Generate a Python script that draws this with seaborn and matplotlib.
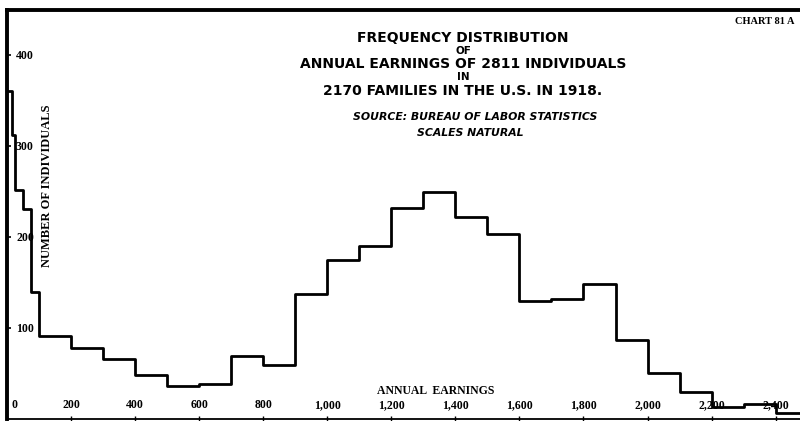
import numpy as np
import matplotlib
matplotlib.use("Agg")
import matplotlib.pyplot as plt
import matplotlib.transforms as mtransforms
import seaborn as sns

# bin edges (dollars) and number of individuals in each bin
edges = [0, 15, 25, 50, 75, 100, 200, 300, 400, 500, 600, 700, 800, 900,
         1000, 1100, 1200, 1300, 1400, 1500, 1600, 1700, 1800, 1900, 2000,
         2100, 2200, 2300, 2400, 2500]
counts = [360, 312, 251, 231, 139, 91, 78, 66, 48, 36, 38, 69, 59, 137,
          175, 190, 232, 249, 222, 203, 129, 132, 148, 87, 51, 30, 13, 16, 7]

xticks = [0, 200, 400, 600, 800, 1000, 1200, 1400, 1600, 1800, 2000, 2200, 2400]
xticklabels = ["0", "200", "400", "600", "800", "1,000", "1,200", "1,400",
               "1,600", "1,800", "2,000", "2,200", "2,400"]
yticks = [100, 200, 300, 400]

title_lines = ["FREQUENCY DISTRIBUTION", "OF",
               "ANNUAL EARNINGS OF 2811 INDIVIDUALS", "IN",
               "2170 FAMILIES IN THE U.S. IN 1918."]
title_sizes = [10, 7.5, 10, 7.5, 10]

sns.set_style("white")
plt.rcParams["font.family"] = ["Liberation Serif", "DejaVu Serif"]
for key in ["text.color", "axes.labelcolor", "xtick.color", "ytick.color"]:
    plt.rcParams[key] = "black"

fig = plt.figure(figsize=(8, 4.21), dpi=100)
ax = fig.add_axes([7 / 800, 2 / 421, 1 - 7 / 800, 409 / 421])

sns.histplot(x=edges[:-1], weights=counts, bins=edges, element="step",
             fill=False, color="black", linewidth=2.0, ax=ax)

ax.set_xlim(0, 2476)
ax.set_ylim(0, 449)
ax.set_xlabel("")
ax.set_ylabel("")

for side in ["left", "top"]:
    ax.spines[side].set_linewidth(2.8)
    ax.spines[side].set_color("black")
ax.spines["bottom"].set_linewidth(1.3)
ax.spines["bottom"].set_color("black")
ax.spines["right"].set_visible(False)

ax.set_yticks(yticks)
ax.set_yticklabels([str(v) for v in yticks], fontsize=8.5, fontweight="bold")
ax.tick_params(axis="y", direction="in", length=3, width=1.2, pad=-6.5, left=True)
for t in ax.get_yticklabels():
    t.set_ha("left")

ax.set_xticks(xticks)
ax.set_xticklabels(xticklabels, fontsize=8.5, fontweight="bold")
ax.tick_params(axis="x", direction="inout", length=5, width=1.0, pad=-17, bottom=True)
zero_label = ax.get_xticklabels()[0]
zero_label.set_ha("left")
zero_label.set_transform(zero_label.get_transform() +
                         mtransforms.ScaledTranslation(5 / 100, 0, fig.dpi_scale_trans))

ax.text(0.54, 0.068, "ANNUAL  EARNINGS", transform=ax.transAxes, ha="center",
        va="center", fontsize=8.5, fontweight="bold")
ax.text(40 / 793, 0.57, "NUMBER OF INDIVIDUALS", transform=ax.transAxes,
        rotation=90, ha="center", va="center", fontsize=9, fontweight="bold")

ys = [38, 51, 64, 77, 91]
for line, y, fs in zip(title_lines, ys, title_sizes):
    fig.text(463 / 800, 1 - y / 421, line, ha="center", va="center",
             fontsize=fs, fontweight="bold", family="DejaVu Sans")
fig.text(475 / 800, 1 - 117 / 421, "SOURCE: BUREAU OF LABOR STATISTICS",
         ha="center", va="center", fontsize=7.8, fontweight="bold",
         style="italic", family="DejaVu Sans")
fig.text(470 / 800, 1 - 133 / 421, "SCALES NATURAL", ha="center", va="center",
         fontsize=7.8, fontweight="bold", style="italic", family="DejaVu Sans")
fig.text(735 / 800, 1 - 22 / 421, "CHART 81 A", ha="left", va="center",
         fontsize=7.5, fontweight="bold")

fig.savefig("out.png", dpi=100, facecolor="white")
